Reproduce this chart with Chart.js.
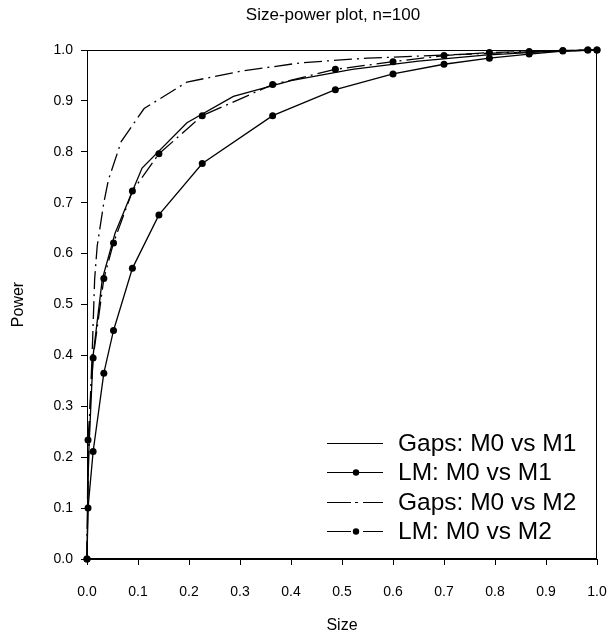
<!DOCTYPE html>
<html>
<head>
<meta charset="utf-8">
<script src="https://cdn.jsdelivr.net/npm/chart.js@4"></script>
<style>
  html, body { margin: 0; padding: 0; background: #fff; }
  #wrap { width: 613px; height: 641px; }
</style>
</head>
<body>
<div id="wrap"><canvas id="chart"></canvas></div>
<script>
// Size-power plot, values

// LM tests share the same size points
const lmSize = [0, 0.002, 0.012, 0.033, 0.052, 0.089, 0.141, 0.226, 0.364, 0.487, 0.600, 0.700, 0.789, 0.867, 0.933, 0.982, 1.0];
const lmM0vsM1 = [0, 0.100, 0.211, 0.365, 0.449, 0.571, 0.676, 0.777, 0.871, 0.922, 0.953, 0.972, 0.984, 0.992, 0.998, 1.0, 1.0];
const lmM0vsM2 = [0, 0.234, 0.395, 0.551, 0.621, 0.723, 0.796, 0.871, 0.932, 0.962, 0.977, 0.989, 0.995, 0.997, 0.999, 1.0, 1.0];

// Gaps tests (no markers)
const gapsM1Size = [0, 0.003, 0.012, 0.030, 0.055, 0.090, 0.108, 0.196, 0.287, 0.40, 0.52, 0.65, 0.78, 0.90, 1.0];
const gapsM0vsM1 = [0, 0.20, 0.40, 0.55, 0.64, 0.725, 0.768, 0.857, 0.909, 0.940, 0.962, 0.978, 0.990, 0.997, 1.0];
const gapsM2Size = [0, 0.002, 0.006, 0.010, 0.015, 0.020, 0.033, 0.042, 0.067, 0.112, 0.196, 0.30, 0.42, 0.55, 0.70, 0.85, 1.0];
const gapsM0vsM2 = [0, 0.15, 0.30, 0.40, 0.55, 0.615, 0.70, 0.745, 0.82, 0.885, 0.937, 0.958, 0.975, 0.984, 0.990, 0.996, 1.0];

const seriesLabels = ['Gaps: M0 vs M1', 'LM: M0 vs M1', 'Gaps: M0 vs M2', 'LM: M0 vs M2'];
const tickValues = [0, 0.1, 0.2, 0.3, 0.4, 0.5, 0.6, 0.7, 0.8, 0.9, 1.0];
const chartTitle = 'Size-power plot, n=100';

const FONT = 'Arial, "Liberation Sans", sans-serif';
const dashDot = [18, 5, 2, 5];

function toPoints(xs, ys) {
    return xs.map((x, i) => ({ x: x, y: ys[i] }));
}

function makeSet(label, xs, ys, dash, markers) {
    return {
        label: label,
        data: toPoints(xs, ys),
        showLine: true,
        borderColor: '#000',
        borderWidth: 1.3,
        borderDash: dash,
        backgroundColor: '#000',
        pointRadius: markers ? 3.5 : 0,
        pointHoverRadius: markers ? 3.5 : 0,
        pointBorderWidth: 0,
        pointBackgroundColor: '#000',
        tension: 0,
        clip: false
    };
}

// box round the plot area + title over the plot
const frame = {
    id: 'frame',
    afterDatasetsDraw(chart) {
        const a = chart.chartArea;
        const ctx = chart.ctx;
        ctx.save();
        ctx.strokeStyle = '#000';
        ctx.lineWidth = 1;
        ctx.strokeRect(Math.round(a.left) + 0.5, Math.round(a.top) + 0.5,
            Math.round(a.right - a.left) - 1, Math.round(a.bottom - a.top) - 1);
        ctx.fillStyle = '#000';
        ctx.font = '17px ' + FONT;
        ctx.textAlign = 'center';
        ctx.textBaseline = 'middle';
        ctx.fillText(chartTitle, 333, 15);
        ctx.restore();
    }
};

// legend inside the plot, lower right
const legendBox = {
    id: 'legendBox',
    afterDraw(chart) {
        const ctx = chart.ctx;
        const rows = [443, 472, 502, 531];
        const x0 = 327, x1 = 383, tx = 398;
        ctx.save();
        ctx.strokeStyle = '#000';
        ctx.fillStyle = '#000';
        ctx.lineWidth = 1;
        rows.forEach((y, i) => {
            const ly = y + 0.5;
            ctx.beginPath();
            if (i < 2) {
                ctx.moveTo(x0, ly); ctx.lineTo(x1, ly);
            } else {
                ctx.moveTo(x0, ly); ctx.lineTo(x0 + 24, ly);
                ctx.moveTo(x1 - 20, ly); ctx.lineTo(x1, ly);
                if (i === 2) { ctx.moveTo(355, ly); ctx.lineTo(358, ly); }
            }
            ctx.stroke();
            if (i === 1 || i === 3) {
                ctx.beginPath();
                ctx.arc(356, ly, 3.2, 0, Math.PI * 2);
                ctx.fill();
            }
            ctx.font = '24.5px ' + FONT;
            ctx.textBaseline = 'middle';
            ctx.textAlign = 'left';
            ctx.fillText(seriesLabels[i], tx, y + 1);
        });
        ctx.restore();
    }
};

const axisCommon = {
    type: 'linear',
    min: 0,
    max: 1,
    grid: { drawOnChartArea: false, drawTicks: true, tickLength: 6, color: '#000', lineWidth: 1 },
    border: { display: true, color: '#000', width: 1 }
};

new Chart(document.getElementById('chart'), {
    type: 'scatter',
    data: {
        datasets: [
            makeSet(seriesLabels[0], gapsM1Size, gapsM0vsM1, [], false),
            makeSet(seriesLabels[1], lmSize, lmM0vsM1, [], true),
            makeSet(seriesLabels[2], gapsM2Size, gapsM0vsM2, dashDot, false),
            makeSet(seriesLabels[3], lmSize, lmM0vsM2, dashDot, true)
        ]
    },
    options: {
        responsive: true,
        maintainAspectRatio: false,
        animation: false,
        layout: { padding: { left: 0, right: 16, top: 50, bottom: 0 } },
        plugins: {
            legend: { display: false },
            tooltip: { enabled: false },
            title: { display: false }
        },
        scales: {
            x: Object.assign({}, axisCommon, {
                afterFit(s) { s.height = 82; s.paddingLeft = 0; s.paddingRight = 0; },
                afterBuildTicks(s) { s.ticks = tickValues.map(v => ({ value: v })); },
                ticks: {
                    color: '#000',
                    font: { family: FONT, size: 14 },
                    padding: 19,
                    maxRotation: 0,
                    autoSkip: false,
                    callback: v => v.toFixed(1)
                },
                title: {
                    display: true,
                    text: 'Size',
                    color: '#000',
                    font: { family: FONT, size: 16 },
                    padding: { top: 0, bottom: 6 }
                }
            }),
            y: Object.assign({}, axisCommon, {
                afterFit(s) { s.width = 87; s.paddingTop = 0; s.paddingBottom = 0; },
                afterBuildTicks(s) { s.ticks = tickValues.map(v => ({ value: v })); },
                ticks: {
                    color: '#000',
                    font: { family: FONT, size: 14 },
                    padding: 8,
                    autoSkip: false,
                    callback: v => v.toFixed(1)
                },
                title: {
                    display: true,
                    text: 'Power',
                    color: '#000',
                    font: { family: FONT, size: 16 },
                    padding: { top: 9, bottom: 0 }
                }
            })
        }
    },
    plugins: [frame, legendBox]
});
</script>
</body>
</html>
